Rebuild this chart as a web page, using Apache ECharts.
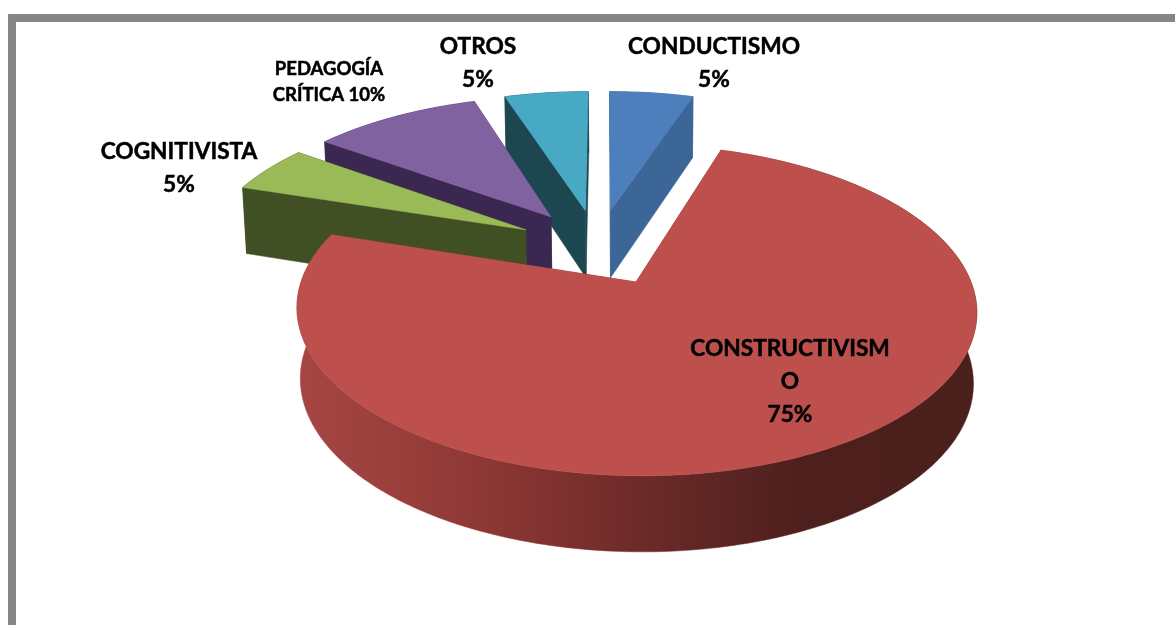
<!DOCTYPE html>
<html>
<head>
<meta charset="utf-8">
<style>
  html, body { margin: 0; padding: 0; background: #fff; }
  #chart { width: 1175px; height: 625px; }
</style>
<script src="https://cdn.jsdelivr.net/npm/echarts@6/dist/echarts.min.js"></script>
</head>
<body>
<div id="chart"></div>
<script>
// values, clockwise from 12 o'clock
var categories = ["CONDUCTISMO", "CONSTRUCTIVISM\nO", "COGNITIVISTA", "PEDAGOGÍA\nCRÍTICA", "OTROS"];
var percents = [5, 75, 5, 10, 5];

var topColors = ["#4d7fbc", "#bd504d", "#9aba58", "#8162a1", "#47a9c4"];
var wallColors = ["#3c6698", "#8a3633", "#414f24", "#3a2850", "#1c4751"];
var labelSpots = [[714, 63], [790, 382], [179, 168], [329, 82], [478, 63]];
var labelSizes = [22.7, 22.7, 22.7, 18.5, 22.7];
var labelGaps = ["\n", "\n", "\n", " ", "\n"];
var drawOrder = [0, 4, 3, 2, 1]; // back to front

// fake perspective of the tilted disc; the red slice's tip is the plane origin
var tipX = 636, tipY = 282, vanishX = 606;
var radius = 335, squash = 161, focal = 5.9, explode = 0.255;
var totalPct = percents.reduce(function (a, b) { return a + b; }, 0);

function slices() {
  var acc = 0;
  return percents.map(function (p) {
    var from = acc / totalPct * Math.PI * 2;
    acc += p;
    var to = acc / totalPct * Math.PI * 2;
    return { from: from, to: to, mid: (from + to) / 2 };
  });
}
var sliceList = slices();
var redMid = sliceList[1].mid;

function sliceOrigin(s) {
  return [
    explode * (Math.sin(s.mid) - Math.sin(redMid)),
    explode * (Math.cos(s.mid) - Math.cos(redMid))
  ];
}
function project(px, py, low) {
  var s = focal / (focal + py);
  var x = vanishX + (tipX - vanishX + radius * px) * s;
  var y = tipY - squash * py * s;
  if (low) {
    x = tipX + (x - tipX) * 0.99;
    y += 70 - 6 * py;
  }
  return [x, y];
}
function arcPoints(s, low) {
  var o = sliceOrigin(s), pts = [];
  var n = Math.max(2, Math.round((s.to - s.from) / 0.02));
  for (var i = 0; i <= n; i++) {
    var a = s.from + (s.to - s.from) * i / n;
    pts.push(project(o[0] + Math.sin(a), o[1] + Math.cos(a), low));
  }
  return pts;
}
function wall(a, b, fill) {
  return {
    type: "polygon",
    shape: { points: a.concat(b.slice().reverse()) },
    style: { fill: fill, stroke: fill, lineWidth: 0.5 }
  };
}

function renderSlice(params, api) {
  var idx = api.value(0);
  var s = sliceList[idx];
  var o = sliceOrigin(s);
  var tipTop = project(o[0], o[1], false);
  var tipLow = project(o[0], o[1], true);
  var arcTop = arcPoints(s, false);
  var arcLow = arcPoints(s, true);
  var wallFill = wallColors[idx];
  var arcFill = wallFill;
  if (idx === 1) {
    arcFill = {
      type: "linear", x: 296, y: 0, x2: 978, y2: 0, global: true,
      colorStops: [
        { offset: 0, color: "#a64644" },
        { offset: 0.16, color: "#993e3b" },
        { offset: 0.3, color: "#8a3633" },
        { offset: 0.42, color: "#792f2d" },
        { offset: 0.6, color: "#5f2624" },
        { offset: 0.74, color: "#4e201d" },
        { offset: 1, color: "#4a1f1c" }
      ]
    };
  }
  var kids = [
    wall([tipTop, arcTop[0]], [tipLow, arcLow[0]], wallFill),
    wall([tipTop, arcTop[arcTop.length - 1]], [tipLow, arcLow[arcLow.length - 1]], wallFill),
    wall(arcTop, arcLow, arcFill),
    {
      type: "polygon",
      shape: { points: [tipTop].concat(arcTop) },
      style: { fill: topColors[idx], stroke: topColors[idx], lineWidth: 0.5 }
    },
    {
      type: "text",
      z2: 50,
      style: {
        x: labelSpots[idx][0],
        y: labelSpots[idx][1],
        text: categories[idx] + labelGaps[idx] + api.value(1) + "%",
        fill: "#000",
        stroke: "#000",
        lineWidth: 0.5,
        font: "bold " + labelSizes[idx] + "px Lato",
        align: "center",
        verticalAlign: "middle",
        lineHeight: labelSizes[idx] < 20 ? 26 : 33
      }
    }
  ];
  return { type: "group", children: kids };
}

var chart = echarts.init(document.getElementById("chart"), null, { renderer: "canvas" });
chart.setOption({
  animation: false,
  backgroundColor: "#fff",
  graphic: [{
    type: "polyline",
    shape: { points: [[12, 625], [12, 18], [1175, 18]] },
    style: { fill: null, stroke: "#868686", lineWidth: 8 }
  }],
  series: [{
    type: "custom",
    coordinateSystem: "none",
    renderItem: renderSlice,
    data: drawOrder.map(function (i) { return [i, percents[i]]; })
  }]
});
</script>
</body>
</html>
